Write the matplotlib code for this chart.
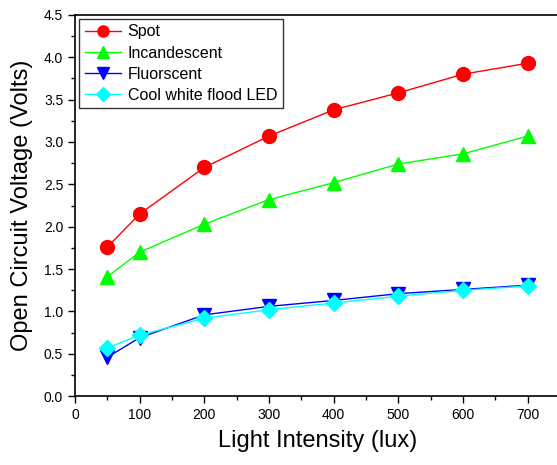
import matplotlib
matplotlib.use("Agg")
import matplotlib.pyplot as plt
from matplotlib.ticker import MultipleLocator

plt.rcParams["font.family"] = ["Liberation Sans", "DejaVu Sans"]

# light intensity (lux)
lux = [50, 100, 200, 300, 400, 500, 600, 700]

# open circuit voltage (V) per light source
spot = [1.76, 2.15, 2.70, 3.07, 3.38, 3.58, 3.80, 3.93]
incandescent = [1.41, 1.70, 2.03, 2.32, 2.52, 2.74, 2.86, 3.07]
fluorescent = [0.46, 0.69, 0.96, 1.06, 1.13, 1.21, 1.26, 1.31]
cool_white = [0.57, 0.72, 0.92, 1.02, 1.10, 1.18, 1.25, 1.30]

fig = plt.figure(figsize=(5.57, 4.65), dpi=100)
ax = fig.add_axes([0.1346, 0.148, 0.871, 0.820])

ax.plot(lux, spot, color="red", marker="o", ms=10, lw=1, label="Spot")
ax.plot(lux, incandescent, color="#00ff00", marker="^", ms=10, lw=1, label="Incandescent")
ax.plot(lux, fluorescent, color="blue", marker="v", ms=10, lw=1, label="Fluorscent")
ax.plot(lux, cool_white, color="cyan", marker="D", ms=8.5, lw=1, label="Cool white flood LED")

ax.set_xlim(0, 750)
ax.set_ylim(0, 4.5)
ax.xaxis.set_major_locator(MultipleLocator(100))
ax.xaxis.set_minor_locator(MultipleLocator(50))
ax.yaxis.set_major_locator(MultipleLocator(0.5))
ax.yaxis.set_minor_locator(MultipleLocator(0.25))
ax.yaxis.set_major_formatter(matplotlib.ticker.FormatStrFormatter("%.1f"))
ax.tick_params(which="major", direction="out", length=5, width=1, labelsize=10)
ax.tick_params(which="minor", direction="out", length=3, width=1)
for s in ax.spines.values():
    s.set_linewidth(1.2)

ax.set_xlabel("Light Intensity (lux)", fontsize=17, labelpad=6)
ax.set_ylabel("Open Circuit Voltage (Volts)", fontsize=17, labelpad=8)

leg = ax.legend(loc="upper left", fontsize=11.5, fancybox=False, edgecolor="black",
                borderaxespad=0.25, handlelength=2.3, labelspacing=0.38,
                borderpad=0.35, handletextpad=0.4, markerscale=0.8)
leg.get_frame().set_linewidth(1)

fig.savefig("out.png", dpi=100)
